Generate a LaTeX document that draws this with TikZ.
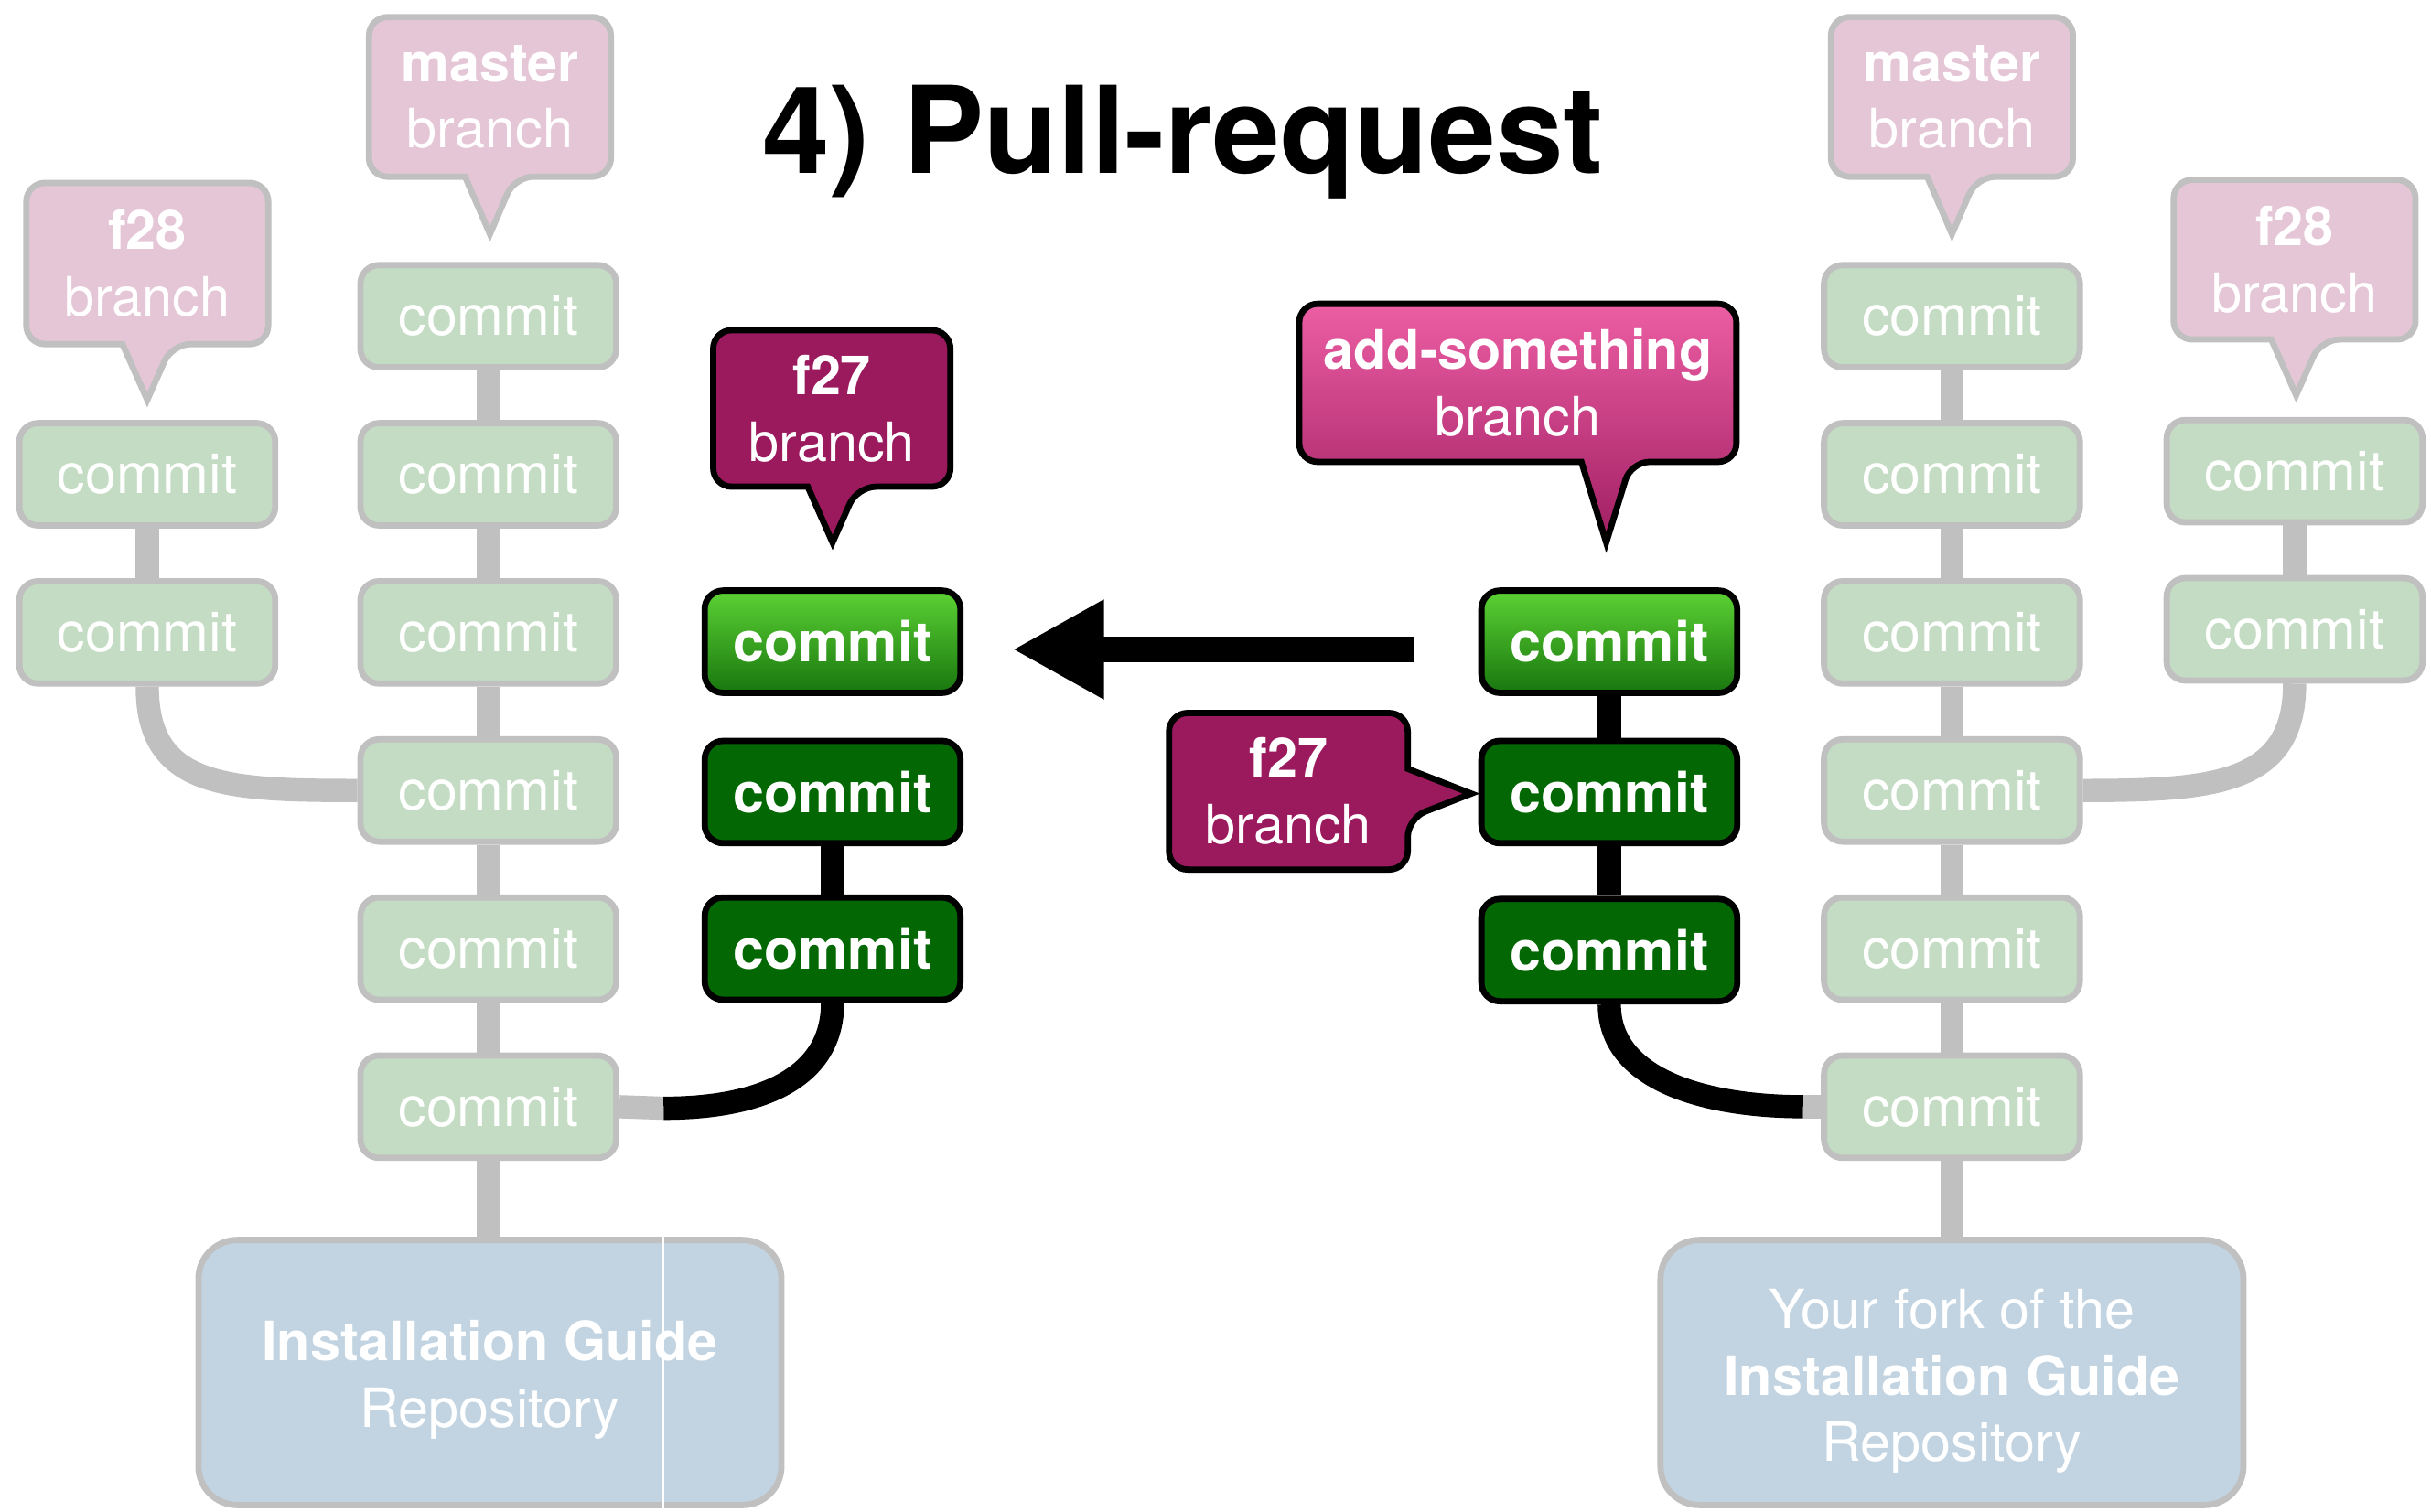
\documentclass[tikz,border=0pt]{standalone}
\usepackage{fontspec}
\setmainfont{TeX Gyre Heros}
\usetikzlibrary{arrows.meta,backgrounds}
\definecolor{lgreen}{RGB}{195,220,195}
\definecolor{lpink}{RGB}{229,198,214}
\definecolor{lblue}{RGB}{194,212,225}
\definecolor{lgray}{RGB}{192,192,192}
\definecolor{dmag}{RGB}{155,25,93}
\definecolor{dgreen}{RGB}{3,104,3}
\definecolor{bgtop}{RGB}{92,210,52}
\definecolor{bgbot}{RGB}{24,118,14}
\definecolor{ptop}{RGB}{236,94,164}
\definecolor{pbot}{RGB}{160,30,98}
\tikzset{
  commitbox/.style={rectangle, rounded corners=12pt, minimum width=165pt, minimum height=66pt, inner sep=0pt, line width=4pt, text=white, font=\fontsize{36}{43}\selectfont},
  oldcommit/.style={commitbox, fill=lgreen, draw=lgray},
  newcommit/.style={commitbox, fill=dgreen, draw=black, font=\bfseries\fontsize{36}{43}\selectfont},
  topcommit/.style={newcommit, top color=bgtop, bottom color=bgbot},
  lightcall/.style={fill=lpink, draw=lgray, line width=4pt},
  darkcall/.style={fill=dmag, draw=black, line width=4pt},
  pinkcall/.style={top color=ptop, bottom color=pbot, draw=black, line width=4pt},
  calltext/.style={text=white, align=center, font=\fontsize{35}{43}\selectfont, inner sep=0pt},
  repostyle/.style={rectangle, rounded corners=25pt, fill=lblue, draw=lgray, line width=4pt, minimum width=376pt, minimum height=171pt},
  repotext/.style={text=white, align=center, font=\fontsize{35}{43}\selectfont, inner sep=0pt},
  gline/.style={draw=lgray, line width=15pt},
  bline/.style={draw=black, line width=15pt}
}
% #1 style, #2 x1, #3 x2, #4 y1 (top), #5 y2 (bottom), #6 tip x, #7 tip y
\newcommand\downcall[7]{\path[#1] (#6+16,#5) -- (#6,#7) -- (#6-16,#5) [rounded corners=12pt] -- (#2,#5) -- (#2,#4) -- (#3,#4) -- (#3,#5) -- cycle;}
\begin{document}
\begin{tikzpicture}[x=1pt,y=-1pt]
\useasboundingbox (0,0) rectangle (1568,975);

% title
\node[font=\bfseries\fontsize{78}{90}\selectfont, anchor=base] (title) at (763,112) {4) Pull-request};

% ---------- left repository ----------
\downcall{lightcall}{17}{173}{118}{222}{95}{258}
\node[calltext] (lf28) at (95,170) {\textbf{f28}\\branch};
\downcall{lightcall}{238}{394}{11}{114}{316}{151}
\node[calltext] (lmaster) at (316,62.5) {\textbf{master}\\branch};

\node[oldcommit] (L1) at (315,204) {commit};
\node[oldcommit] (L2) at (315,306) {commit};
\node[oldcommit] (L3) at (315,408) {commit};
\node[oldcommit] (L4) at (315,510) {commit};
\node[oldcommit] (L5) at (315,612) {commit};
\node[oldcommit] (L6) at (315,714) {commit};
\node[oldcommit] (LF1) at (95,306) {commit};
\node[oldcommit] (LF2) at (95,408) {commit};

\node[repostyle] (repoL) at (316,885.5) {};
\node[repotext] (repoLt) at (316,890) {\textbf{Installation Guide}\\Repository};
\draw[white, line width=1pt] (428,798) -- (428,975);

% ---------- f27 (upstream) ----------
\downcall{darkcall}{460}{613}{213}{314}{537}{350}
\node[calltext] (f27a) at (536.5,263.5) {\textbf{f27}\\branch};
\node[topcommit] (C1) at (537,414) {commit};
\node[newcommit] (C2) at (537,511) {commit};
\node[newcommit] (C3) at (537,612) {commit};

% ---------- add-something (fork) ----------
\downcall{pinkcall}{838}{1120}{196}{298}{1036}{350}
\node[calltext] (addsth) at (979,247) {\textbf{add-something}\\branch};
\node[topcommit] (R1) at (1038,414) {commit};
\node[newcommit] (R2) at (1038,511) {commit};
\node[newcommit] (R3) at (1038,613) {commit};
\path[darkcall] (908,528) -- (949,512) -- (908,496) [rounded corners=12pt] -- (908,460) -- (754,460) -- (754,561) -- (908,561) -- cycle;
\node[calltext] (f27b) at (831,510.5) {\textbf{f27}\\branch};

% ---------- right repository ----------
\downcall{lightcall}{1181}{1337}{11}{114}{1259}{151}
\node[calltext] (rmaster) at (1259,62.5) {\textbf{master}\\branch};
\downcall{lightcall}{1402}{1558}{116}{219}{1481}{255}
\node[calltext] (rf28) at (1480,167.5) {\textbf{f28}\\branch};

\node[oldcommit] (RM1) at (1259,204) {commit};
\node[oldcommit] (RM2) at (1259,306) {commit};
\node[oldcommit] (RM3) at (1259,408) {commit};
\node[oldcommit] (RM4) at (1259,510) {commit};
\node[oldcommit] (RM5) at (1259,612) {commit};
\node[oldcommit] (RM6) at (1259,714) {commit};
\node[oldcommit] (RF1) at (1480,304) {commit};
\node[oldcommit] (RF2) at (1480,406) {commit};

\node[repostyle] (repoR) at (1259,885.5) {};
\node[repotext] (repoRt) at (1259,891) {Your fork of the\\\textbf{Installation Guide}\\Repository};

% pull-request arrow
\coordinate (arS) at (912,419);
\coordinate (arE) at (653,419);
\draw[line width=16pt, -{Triangle[length=59pt,width=60pt]}] (arS) -- (arE);

% ---------- connectors ----------
\coordinate (jL) at (428,715);
\coordinate (jR) at (1163,714);
\begin{scope}[on background layer]
  \draw[gline] (L1) -- (L2) -- (L3) -- (L4) -- (L5) -- (L6);
  \draw[gline] (L6) -- (L6 |- repoL.north);
  \draw[gline] (LF1) -- (LF2);
  \draw[gline] (LF2.south) .. controls +(0,65) and +(-85,0) .. (L4.west);
  \draw[gline] (L6.east) -- (jL);
  \draw[bline] (C3.south) .. controls +(0,50) and +(60,0) .. (jL);
  \draw[bline] (C2) -- (C3);

  \draw[bline] (R1) -- (R2) -- (R3);
  \draw[gline] (jR) -- (RM6.west);
  \draw[bline] (R3.south) .. controls +(0,50) and +(-60,0) .. (jR);

  \draw[gline] (RM1) -- (RM2) -- (RM3) -- (RM4) -- (RM5) -- (RM6);
  \draw[gline] (RM6) -- (RM6 |- repoR.north);
  \draw[gline] (RF1) -- (RF2);
  \draw[gline] (RF2.south) .. controls +(0,65) and +(85,0) .. (RM4.east);
\end{scope}
\end{tikzpicture}
\end{document}
